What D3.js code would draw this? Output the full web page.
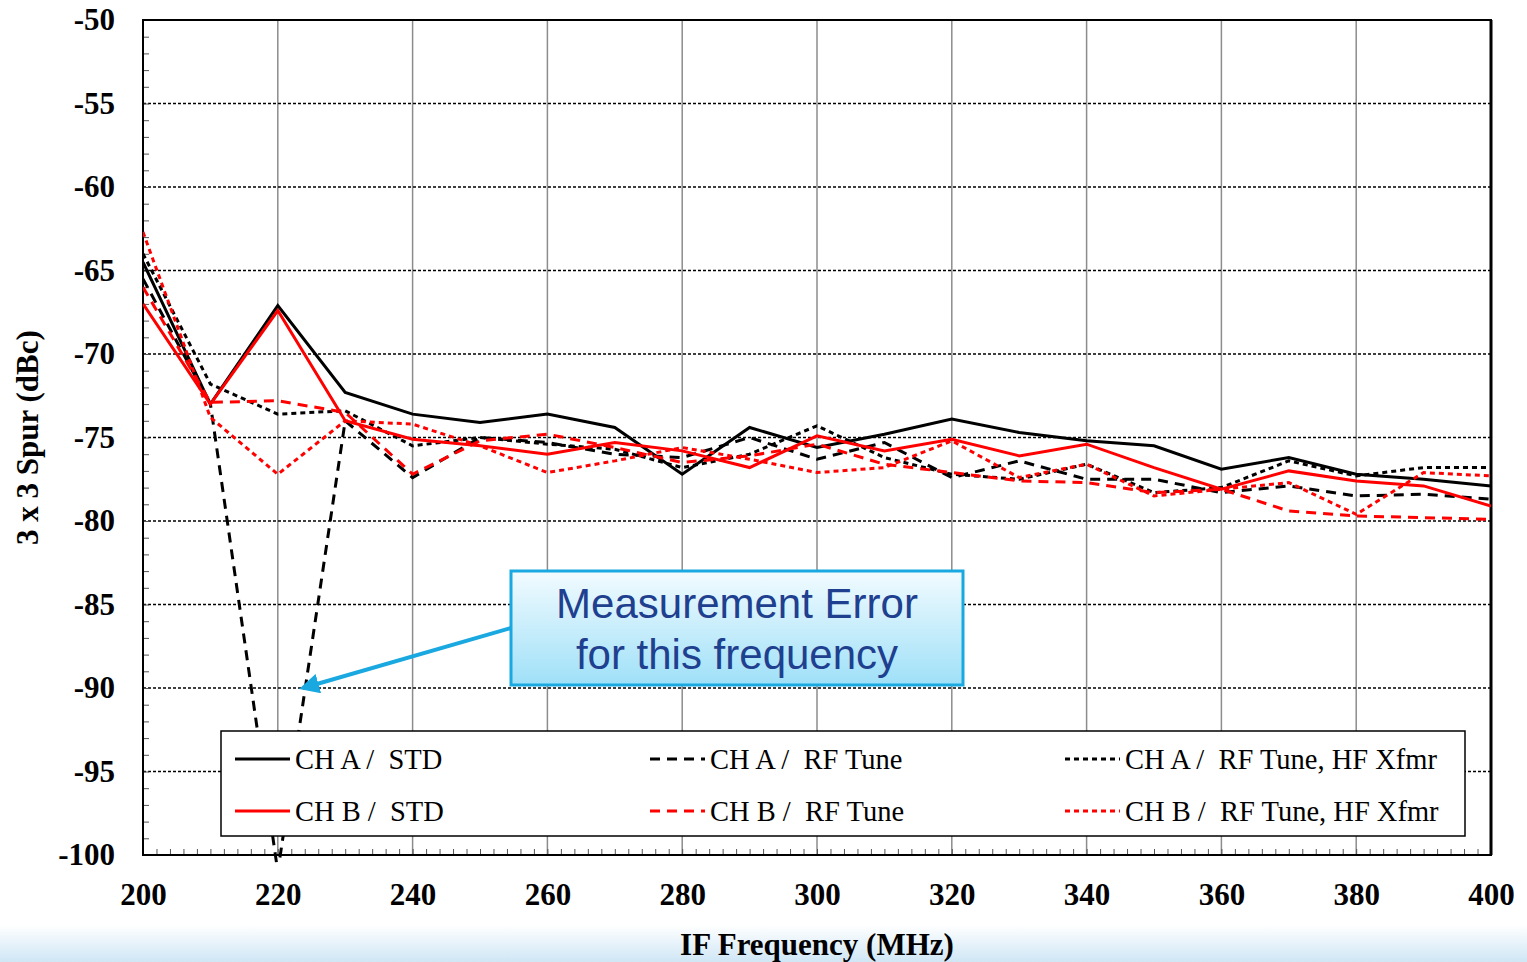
<!DOCTYPE html>
<html><head><meta charset="utf-8">
<script src="https://cdn.jsdelivr.net/npm/d3@7"></script>
<style>body{margin:0;background:#fff}</style>
</head><body>
<script>
// IF frequency points (MHz)
var freqs = [200,210,220,230,240,250,260,270,280,290,300,310,320,330,340,350,360,370,380,390,400];
var chaStd   = [-64.5,-73,-67.1,-72.3,-73.6,-74.1,-73.6,-74.4,-77.2,-74.4,-75.6,-74.8,-73.9,-74.7,-75.2,-75.5,-76.9,-76.2,-77.2,-77.5,-77.9];
var chbStd   = [-67,-73,-67.4,-74,-75.1,-75.5,-76,-75.3,-75.8,-76.8,-74.9,-75.8,-75.1,-76.1,-75.4,-76.8,-78.1,-77,-77.6,-77.9,-79.1];
var chaRf    = [-65.5,-73,-101,-74,-77.4,-75,-75.3,-76,-76.2,-75,-76.3,-75.3,-77.4,-76.4,-77.5,-77.5,-78.3,-77.9,-78.5,-78.4,-78.7];
var chaRfHf  = [-64,-71.8,-73.6,-73.4,-75.5,-75,-75.4,-75.7,-76.8,-76,-74.3,-76.2,-77.2,-77.5,-76.6,-78.3,-78,-76.4,-77.3,-76.8,-76.8];
var chbRf    = [-66,-72.9,-72.8,-73.5,-77.2,-75.2,-74.8,-75.6,-76.5,-76.1,-75.4,-76.6,-77.1,-77.6,-77.7,-78.3,-78.1,-79.4,-79.7,-79.8,-79.9];
var chbRfHf  = [-62.7,-73.8,-77.2,-74,-74.2,-75.5,-77.1,-76.4,-75.6,-76.3,-77.1,-76.8,-75.2,-77.4,-76.6,-78.5,-78.1,-77.7,-79.6,-77.1,-77.3];
var xTicks = [200,220,240,260,280,300,320,340,360,380,400];
var yTicks = [-50,-55,-60,-65,-70,-75,-80,-85,-90,-95,-100];

var series = [
  {name:"CH A /  STD", v:chaStd, c:"#000", dash:null},
  {name:"CH A /  RF Tune", v:chaRf, c:"#000", dash:"10,7"},
  {name:"CH A /  RF Tune, HF Xfmr", v:chaRfHf, c:"#000", dash:"5,4"},
  {name:"CH B /  STD", v:chbStd, c:"#f00", dash:null},
  {name:"CH B /  RF Tune", v:chbRf, c:"#f00", dash:"10,7"},
  {name:"CH B /  RF Tune, HF Xfmr", v:chbRfHf, c:"#f00", dash:"5,4"}
];

var W = 1527, H = 962;
var L = 143, R = 1491, T = 20, B = 855;
var svg = d3.select("body").append("svg").attr("width", W).attr("height", H);

var defs = svg.append("defs");
var bg = defs.append("linearGradient").attr("id","bot").attr("x1",0).attr("y1",0).attr("x2",0).attr("y2",1);
bg.append("stop").attr("offset","0").attr("stop-color","#fff");
bg.append("stop").attr("offset","1").attr("stop-color","#cfe6f5");
svg.append("rect").attr("x",0).attr("y",925).attr("width",W).attr("height",37).attr("fill","url(#bot)");

var x = d3.scaleLinear().domain([200,400]).range([L,R]);
var y = d3.scaleLinear().domain([-100,-50]).range([B,T]);

svg.append("rect").attr("x",L).attr("y",T).attr("width",R-L).attr("height",B-T).attr("fill","#fff");

// vertical grid
svg.selectAll(".vg").data(xTicks.slice(1,-1)).enter().append("line")
  .attr("x1",d=>x(d)).attr("x2",d=>x(d)).attr("y1",T).attr("y2",B)
  .attr("stroke","#8c8c8c").attr("stroke-width",1.5);
// horizontal grid
svg.selectAll(".hg").data(yTicks.slice(1,-1)).enter().append("line")
  .attr("x1",L).attr("x2",R).attr("y1",d=>y(d)).attr("y2",d=>y(d))
  .attr("stroke","#000").attr("stroke-width",1.3).attr("stroke-dasharray","3,2");

// minor ticks
svg.append("g").attr("transform","translate("+L+",0)")
  .call(d3.axisRight(y).ticks(50).tickSize(6).tickFormat(""))
  .call(g=>g.select(".domain").remove()).selectAll("line").attr("stroke","#555");
svg.append("g").attr("transform","translate(0,"+B+")")
  .call(d3.axisTop(x).ticks(100).tickSize(6).tickFormat(""))
  .call(g=>g.select(".domain").remove()).selectAll("line").attr("stroke","#555");

// frame
svg.append("rect").attr("x",L).attr("y",T).attr("width",R-L).attr("height",B-T)
  .attr("fill","none").attr("stroke","#000").attr("stroke-width",2);
svg.append("line").attr("x1",R).attr("x2",R).attr("y1",T).attr("y2",B).attr("stroke","#000").attr("stroke-width",3);

// axes
var xa = svg.append("g").attr("transform","translate(0,"+B+")")
  .call(d3.axisBottom(x).tickValues(xTicks).tickSize(0).tickPadding(28));
var ya = svg.append("g").attr("transform","translate("+L+",0)")
  .call(d3.axisLeft(y).tickValues(yTicks).tickSize(0).tickPadding(28).tickFormat(d=>String(d)));
[xa,ya].forEach(function(a){
  a.select(".domain").remove();
  a.selectAll("text").attr("font-family","Liberation Serif").attr("font-weight","bold")
    .attr("font-size",31).attr("fill","#000");
});

svg.append("text").attr("x",(L+R)/2).attr("y",955).attr("text-anchor","middle")
  .attr("font-family","Liberation Serif").attr("font-weight","bold").attr("font-size",31)
  .text("IF Frequency (MHz)");
svg.append("text").attr("transform","translate(38,"+((T+B)/2)+") rotate(-90)")
  .attr("text-anchor","middle").attr("font-family","Liberation Serif")
  .attr("font-weight","bold").attr("font-size",31).text("3 x 3 Spur (dBc)");

// lines
defs.append("clipPath").attr("id","clip").append("rect")
  .attr("x",L).attr("y",T).attr("width",R-L).attr("height",B-T+8);
var line = d3.line().x((d,i)=>x(freqs[i])).y(d=>y(d));
svg.append("g").attr("clip-path","url(#clip)").selectAll("path").data(series).enter().append("path")
  .attr("d",d=>line(d.v)).attr("fill","none").attr("stroke",d=>d.c)
  .attr("stroke-width",3).attr("stroke-dasharray",d=>d.dash);

// legend
svg.append("rect").attr("x",221).attr("y",731).attr("width",1244).attr("height",105)
  .attr("fill","#fff").attr("stroke","#000").attr("stroke-width",1.5);
var lx = [235,650,1065], ly = [759,811];
series.forEach(function(s,i){
  var cx = lx[i%3], cy = ly[Math.floor(i/3)];
  svg.append("line").attr("x1",cx).attr("x2",cx+55).attr("y1",cy).attr("y2",cy)
    .attr("stroke",s.c).attr("stroke-width",3).attr("stroke-dasharray",s.dash);
  svg.append("text").attr("x",cx+60).attr("y",cy+10).attr("font-family","Liberation Serif")
    .attr("font-size",28.5).style("white-space","pre").text(s.name);
});

// callout
var cg = defs.append("linearGradient").attr("id","cg").attr("x1",0).attr("y1",0).attr("x2",0).attr("y2",1);
cg.append("stop").attr("offset","0").attr("stop-color","#f2fbff");
cg.append("stop").attr("offset","1").attr("stop-color","#9fe0f8");
defs.append("marker").attr("id","ah").attr("viewBox","0 0 10 10").attr("refX",8).attr("refY",5)
  .attr("markerWidth",5).attr("markerHeight",5).attr("orient","auto")
  .append("path").attr("d","M0,0L10,5L0,10z").attr("fill","#1aa8e0");
svg.append("line").attr("x1",511).attr("y1",628).attr("x2",303).attr("y2",688)
  .attr("stroke","#1aa8e0").attr("stroke-width",4).attr("marker-end","url(#ah)");
svg.append("rect").attr("x",511).attr("y",571).attr("width",452).attr("height",114)
  .attr("fill","url(#cg)").attr("stroke","#1aa8e0").attr("stroke-width",3);
svg.append("text").attr("x",737).attr("y",618).attr("text-anchor","middle")
  .attr("font-family","Liberation Sans").attr("font-size",42).attr("fill","#1f3f8f").text("Measurement Error");
svg.append("text").attr("x",737).attr("y",669).attr("text-anchor","middle")
  .attr("font-family","Liberation Sans").attr("font-size",42).attr("fill","#1f3f8f").text("for this frequency");
</script>
</body></html>
